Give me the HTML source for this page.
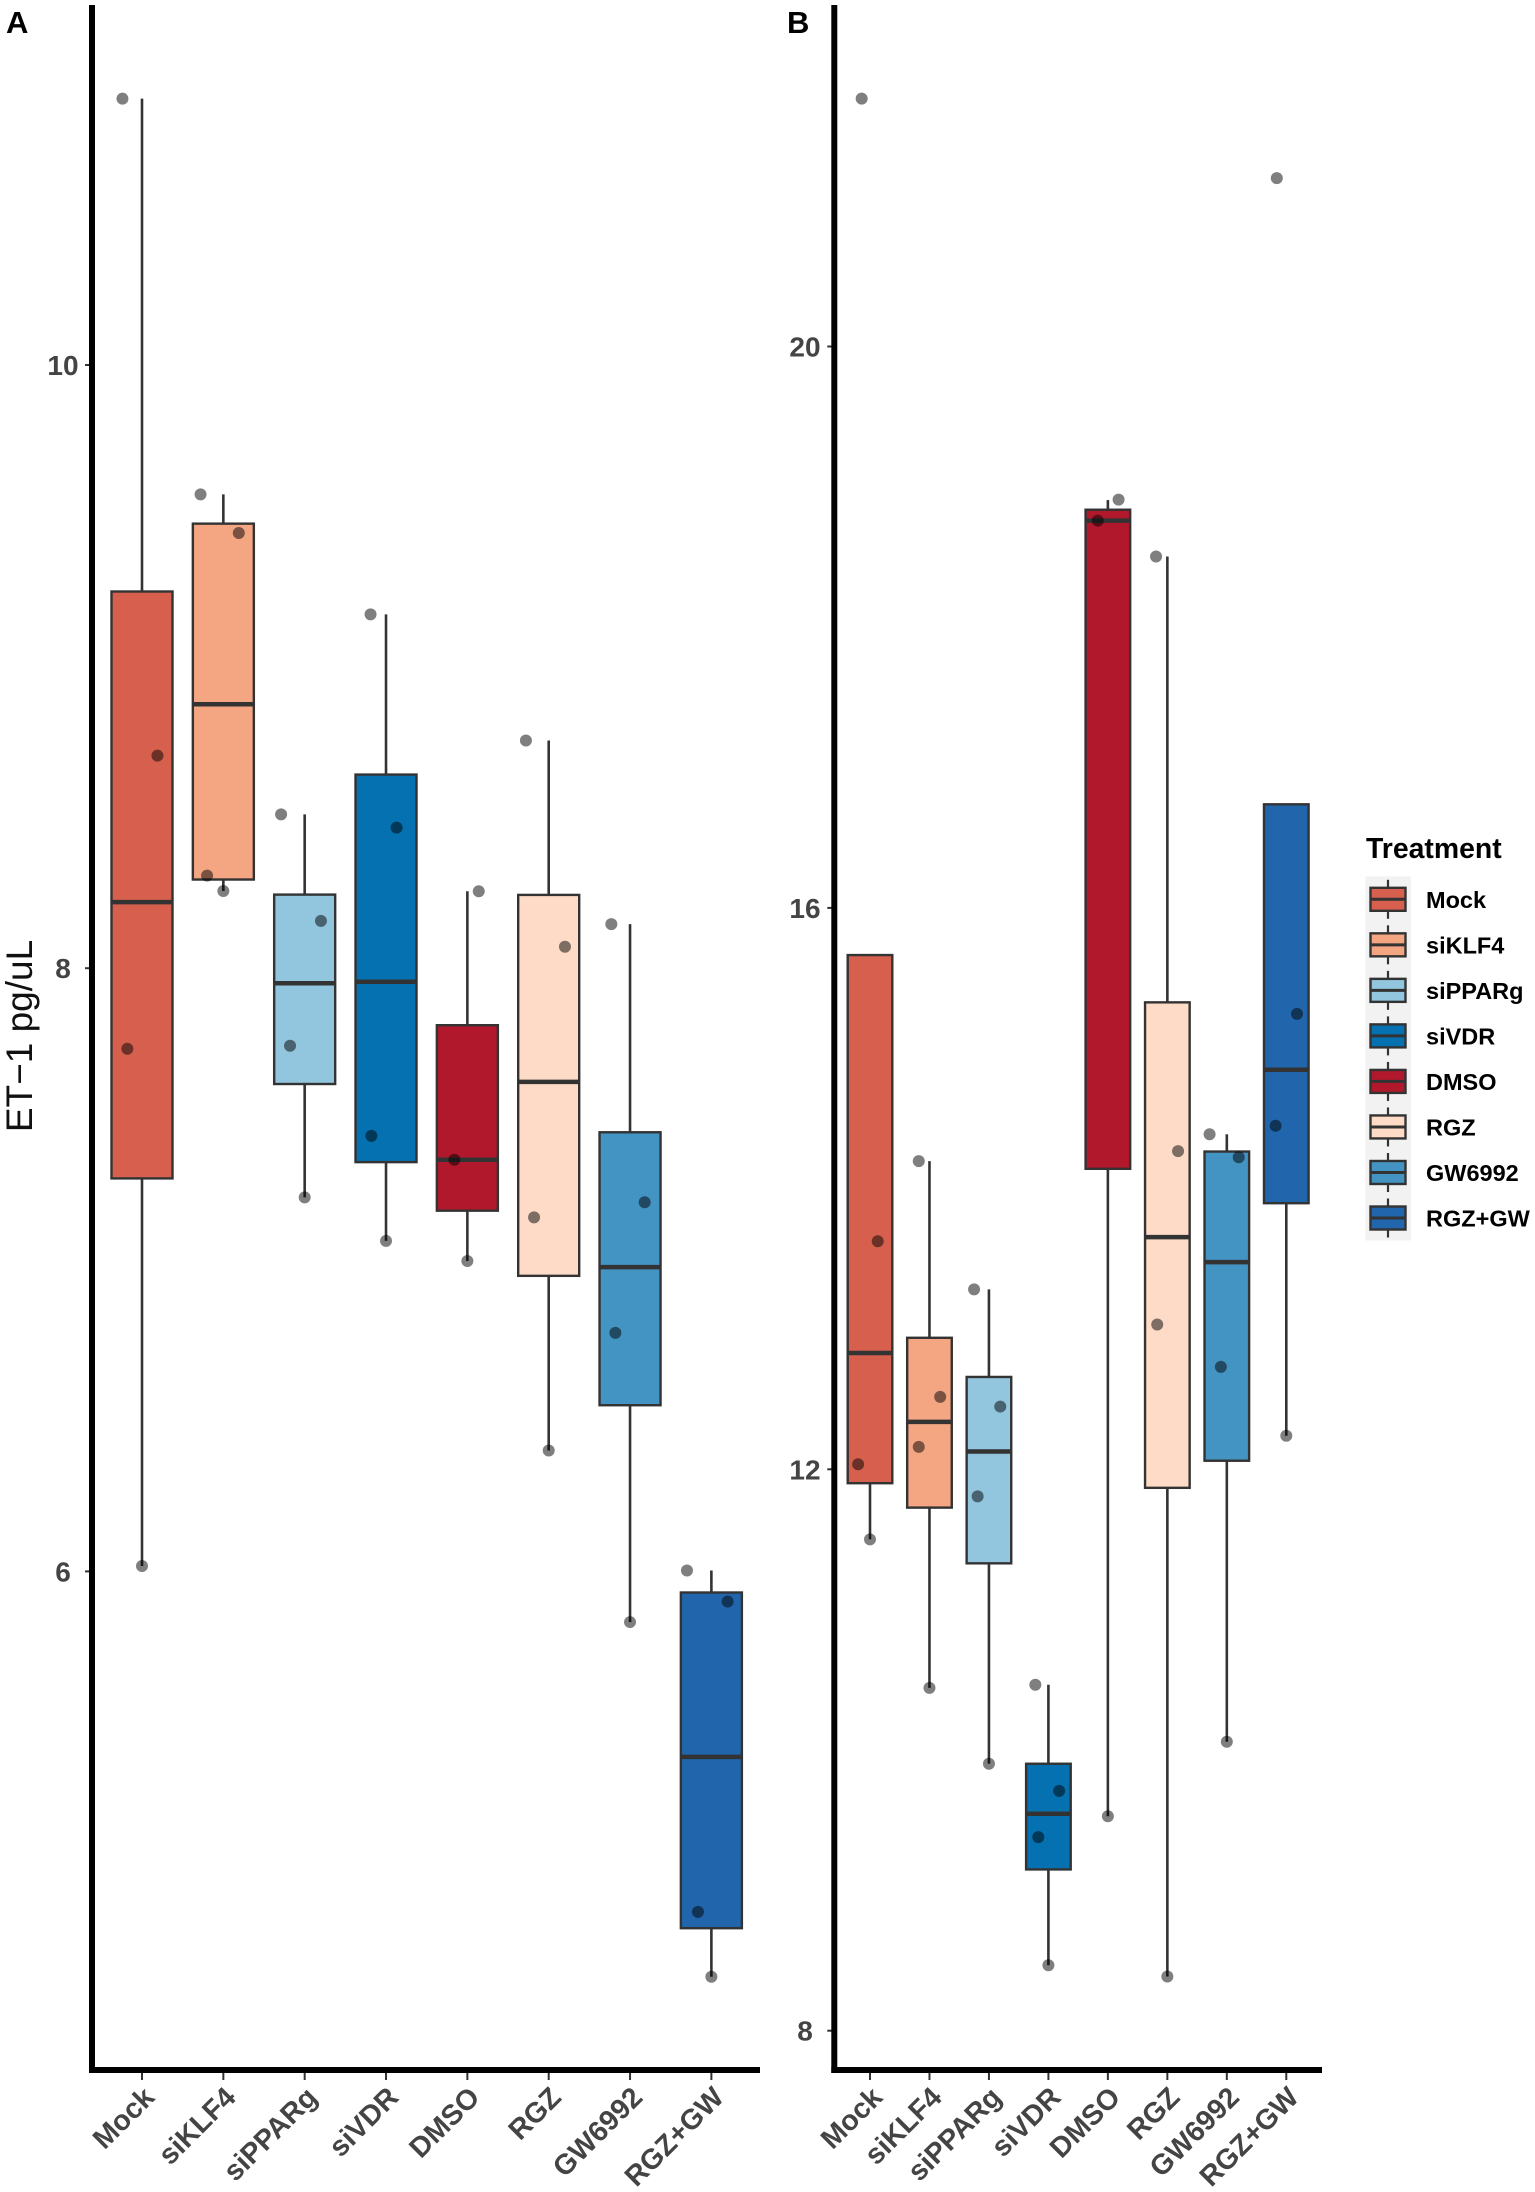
<!DOCTYPE html>
<html lang="en">
<head>
<meta charset="utf-8">
<title>ET-1 boxplots by treatment</title>
<style>
html,body{margin:0;padding:0;background:#fff;}
svg{display:block;font-family:"Liberation Sans",Arial,sans-serif;}
</style>
</head>
<body>
<svg id="chart" xmlns="http://www.w3.org/2000/svg" width="1535" height="2192" viewBox="0 0 1535 2192">
  <rect x="0" y="0" width="1535" height="2192" fill="#ffffff"/>
  <text x="6" y="33" font-size="31" font-weight="700" fill="#000">A</text>
  <text x="787" y="33" font-size="31" font-weight="700" fill="#000">B</text>
  <text transform="translate(32,1036) rotate(-90)" text-anchor="middle" font-size="37" fill="#111">ET−1 pg/uL</text>
  <g id="panelA"></g>
  <g id="panelB"></g>
  <g id="legend">
    <text x="1366" y="858" font-size="28.4" font-weight="700" fill="#000">Treatment</text>
    <rect x="1365.5" y="876.5" width="45.5" height="364" fill="#f2f2f2"/>
  </g>
</svg>
<script>
var categories = ["Mock","siKLF4","siPPARg","siVDR","DMSO","RGZ","GW6992","RGZ+GW"];
var fillColors = ["#D6604D","#F4A582","#92C5DE","#0571B0","#B2182B","#FDDBC7","#4393C3","#2166AC"];

var ticksA = [6,8,10];
var whiskerHiA = [10.883,9.571,8.510,9.173,8.255,8.755,8.146,6.003];
var q3A = [9.249,9.474,8.244,8.642,7.811,8.243,7.456,5.930];
var medianA = [8.219,8.875,7.950,7.955,7.365,7.623,7.009,5.385];
var q1A = [7.303,8.294,7.616,7.357,7.196,6.980,6.551,4.817];
var whiskerLoA = [6.018,8.256,7.240,7.096,7.029,6.401,5.832,4.656];
var pointsA = [
  [10.883,8.705,7.733,6.018],
  [9.571,9.443,8.307,8.256],
  [8.510,8.157,7.743,7.240],
  [9.173,8.466,7.444,7.096],
  [8.255,7.365,7.029],
  [8.755,8.071,7.174,6.401],
  [8.146,7.224,6.791,5.832],
  [6.003,5.900,4.871,4.656]
];
var jitterA = [
  [-0.24,0.19,-0.18,0],
  [-0.28,0.19,-0.20,0],
  [-0.29,0.20,-0.18,0],
  [-0.19,0.13,-0.18,0],
  [0.14,-0.16,0],
  [-0.28,0.20,-0.18,0],
  [-0.23,0.18,-0.18,0],
  [-0.30,0.20,-0.165,0]
];

var ticksB = [8,12,16,20];
var whiskerHiB = [15.664,14.196,13.282,10.465,18.906,18.504,14.387,16.738];
var q3B = [15.664,12.937,12.658,9.902,18.837,15.327,14.264,16.738];
var medianB = [12.829,12.338,12.127,9.546,18.759,13.654,13.476,14.847];
var q1B = [11.901,11.727,11.330,9.149,14.141,11.868,12.061,13.896];
var whiskerLoB = [11.501,10.443,9.902,8.466,9.528,8.386,10.059,12.239];
var pointsB = [
  [21.766,13.625,12.036,11.501],
  [14.196,12.516,12.160,10.443],
  [13.282,12.447,11.807,9.902],
  [10.465,9.709,9.379,8.466],
  [18.909,18.759,9.528],
  [18.504,14.267,13.032,8.386],
  [14.387,14.223,12.730,10.059],
  [21.200,15.245,14.448,12.239]
];
var jitterB = [
  [-0.14,0.13,-0.20,0],
  [-0.18,0.18,-0.18,0],
  [-0.25,0.19,-0.19,0],
  [-0.22,0.18,-0.17,0],
  [0.18,-0.17,0],
  [-0.19,0.18,-0.17,0],
  [-0.29,0.20,-0.10,0],
  [-0.16,0.18,-0.18,0]
];

var NS = "http://www.w3.org/2000/svg";
var STROKE = "#333333";

function el(parent, tag, attrs, name) {
  var node = document.createElementNS(NS, tag);
  for (var k in attrs) { node.setAttribute(k, attrs[k]); }
  
  
  parent.appendChild(node);
  return node;
}
function slug(s) { return s.toLowerCase().replace(/\+/g, '-'); }

function drawPanel(cfg) {
  var root = document.getElementById(cfg.id);
  var x = function (i) { return cfg.x0 + i * cfg.step; };
  var y = function (v) { return cfg.y0 + (cfg.v0 - v) * cfg.pxPerUnit; };
  var boxW = cfg.step * 0.75;
  var p = cfg.prefix;

  categories.forEach(function (cat, i) {
    var cx = x(i);
    var g = el(root, 'g', {}, p + '-box-' + slug(cat));
    if (cfg.hi[i] > cfg.q3[i]) {
      el(g, 'line', {x1:cx, x2:cx, y1:y(cfg.hi[i]), y2:y(cfg.q3[i]), stroke:STROKE, 'stroke-width':2.6}, 'upper-whisker');
    }
    el(g, 'line', {x1:cx, x2:cx, y1:y(cfg.q1[i]), y2:y(cfg.lo[i]), stroke:STROKE, 'stroke-width':2.6}, 'lower-whisker');
    el(g, 'rect', {x:cx - boxW / 2, y:y(cfg.q3[i]), width:boxW, height:y(cfg.q1[i]) - y(cfg.q3[i]), fill:fillColors[i], stroke:STROKE, 'stroke-width':2.4}, 'interquartile-box');
    el(g, 'line', {x1:cx - boxW / 2, x2:cx + boxW / 2, y1:y(cfg.med[i]), y2:y(cfg.med[i]), stroke:STROKE, 'stroke-width':4.5}, 'median-line');
  });

  categories.forEach(function (cat, i) {
    cfg.pts[i].forEach(function (v, j) {
      el(root, 'circle', {cx:x(i + cfg.jit[i][j]), cy:y(v), r:6, fill:'#000', 'fill-opacity':0.5}, p + '-point-' + slug(cat));
    });
  });

  cfg.ticks.forEach(function (t) {
    el(root, 'line', {x1:cfg.axisX - 7, x2:cfg.axisX, y1:y(t), y2:y(t), stroke:STROKE, 'stroke-width':2}, p + '-y-tick');
    var lab = el(root, 'text', {x:cfg.labelX, y:y(t) + 10, 'text-anchor':'middle', 'font-size':28, 'font-weight':700, fill:'#444'}, p + '-y-tick-label');
    lab.textContent = String(t);
  });

  categories.forEach(function (cat, i) {
    var cx = x(i);
    el(root, 'line', {x1:cx, x2:cx, y1:2070, y2:2080, stroke:STROKE, 'stroke-width':2}, p + '-x-tick');
    var lab = el(root, 'text', {transform:'translate(' + (cx + 14) + ',2099) rotate(-45)', 'text-anchor':'end', 'font-size':28.5, 'font-weight':700, fill:'#444'}, p + '-x-tick-label');
    lab.textContent = cat;
  });

  el(root, 'line', {x1:cfg.axisX, x2:cfg.axisX, y1:5, y2:2073, stroke:'#000', 'stroke-width':6}, p + '-y-axis-line');
  el(root, 'line', {x1:cfg.axisX - 3, x2:cfg.axisEnd, y1:2070, y2:2070, stroke:'#000', 'stroke-width':6}, p + '-x-axis-line');
}

drawPanel({id:'panelA', prefix:'a', x0:142, step:81.34, y0:365, v0:10, pxPerUnit:301.6, axisX:92, axisEnd:760, labelX:63,
  ticks:ticksA, hi:whiskerHiA, q3:q3A, med:medianA, q1:q1A, lo:whiskerLoA, pts:pointsA, jit:jitterA});
drawPanel({id:'panelB', prefix:'b', x0:870, step:59.47, y0:346.5, v0:20, pxPerUnit:140.35, axisX:834.3, axisEnd:1322, labelX:805,
  ticks:ticksB, hi:whiskerHiB, q3:q3B, med:medianB, q1:q1B, lo:whiskerLoB, pts:pointsB, jit:jitterB});

var legendRoot = document.getElementById('legend');
categories.forEach(function (cat, i) {
  var cy = 899.3 + i * 45.53;
  var g = el(legendRoot, 'g', {}, 'legend-entry-' + slug(cat));
  el(g, 'line', {x1:1388, x2:1388, y1:cy - 19.5, y2:cy + 19.5, stroke:STROKE, 'stroke-width':2.2}, 'legend-key-whisker');
  el(g, 'rect', {x:1370.5, y:cy - 11.5, width:35, height:23, fill:fillColors[i], stroke:STROKE, 'stroke-width':2.4}, 'legend-key-box');
  el(g, 'line', {x1:1370.5, x2:1405.5, y1:cy, y2:cy, stroke:STROKE, 'stroke-width':3}, 'legend-key-median');
  var lab = el(g, 'text', {x:1426, y:cy + 8.5, 'font-size':23.5, 'font-weight':700, fill:'#000'}, 'legend-label');
  lab.textContent = cat;
});
</script>
</body>
</html>
